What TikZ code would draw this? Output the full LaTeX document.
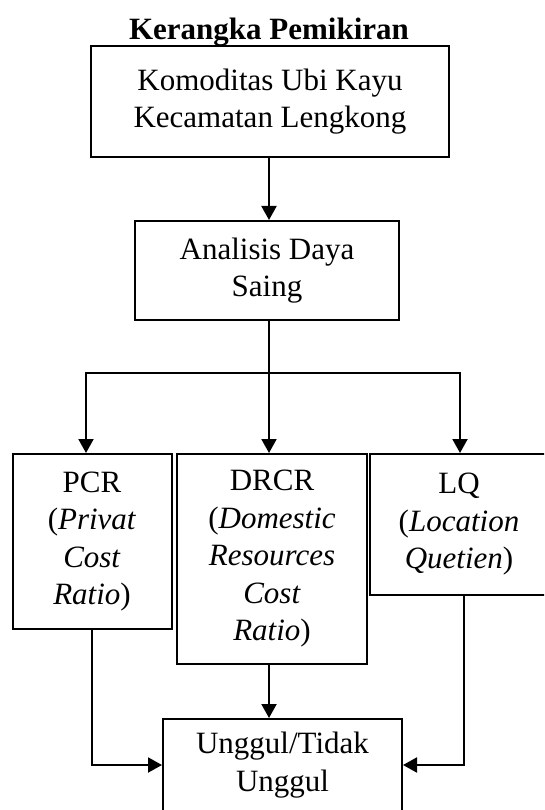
\documentclass[tikz,border=0pt]{standalone}
\usepackage{fontspec}
\setmainfont{Liberation Serif}
\usetikzlibrary{arrows.meta}

\begin{document}
\begin{tikzpicture}[x=1pt, y=-1pt, line width=2pt,
  kotak/.style={draw, rectangle, align=center, inner sep=0pt, font=\fontsize{31}{37.5}\selectfont},
  panah/.style={-{Triangle[length=14pt,width=15pt]}}]
\useasboundingbox (0,0) rectangle (544,810);
\clip (0,0) rectangle (544,810);

\node[anchor=base, font=\bfseries\fontsize{31}{36}\selectfont] (judul) at (269,40) {Kerangka Pemikiran};
\node[kotak, minimum width=358pt, minimum height=111pt] (komoditas) at (270,101.5) {Komoditas Ubi Kayu\\Kecamatan Lengkong};
\node[kotak, minimum width=264pt, minimum height=99pt] (saing) at (267,270.5) {Analisis Daya\\Saing};
\node[kotak, minimum width=159pt, minimum height=175pt] (pcr) at (92,541.5) {PCR\\(\textit{Privat}\\\textit{Cost}\\\textit{Ratio})};
\node[kotak, minimum width=190pt, minimum height=210pt] (drcr) at (272,559) {DRCR\\(\textit{Domestic}\\\textit{Resources}\\\textit{Cost}\\\textit{Ratio})};
\node[kotak, minimum width=178pt, minimum height=141pt] (lq) at (459,524.5) {LQ\\(\textit{Location}\\\textit{Quetien})};
\node[kotak, minimum width=239pt, minimum height=92pt] (hasil) at (282.5,765) {Unggul/Tidak\\Unggul};

\coordinate (bus) at (269,373);
\coordinate (kiri) at (86,373);
\coordinate (kanan) at (460,373);
\coordinate (lqturun) at (464,0);

\draw[panah] (komoditas.south -| bus) -- (bus |- saing.north);
\draw (saing.south -| bus) -- (bus);
\draw[line cap=rect] (kiri) -- (kanan);
\draw[panah] (kiri) -- (kiri |- pcr.north);
\draw[panah] (bus) -- (bus |- drcr.north);
\draw[panah] (kanan) -- (kanan |- lq.north);

\draw[panah] (pcr.south) |- (hasil.west);
\draw[panah] (drcr.south -| bus) -- (bus |- hasil.north);
\draw[panah] (lq.south -| lqturun) |- (hasil.east);
\end{tikzpicture}
\end{document}
